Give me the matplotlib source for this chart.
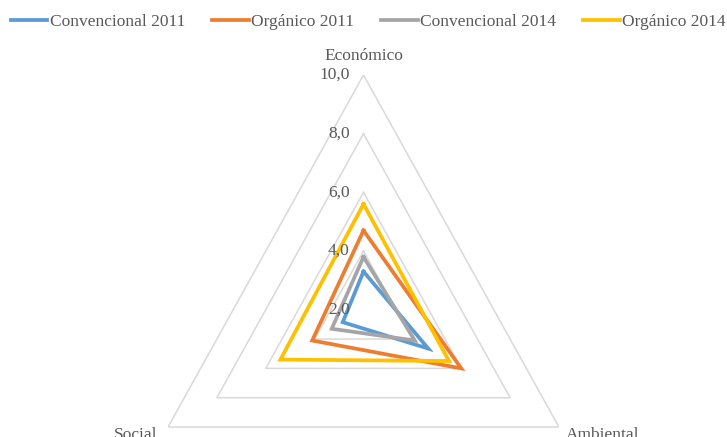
import numpy as np
import matplotlib
matplotlib.use('Agg')
import matplotlib.pyplot as plt

# Datos del gráfico
categorias = ['Económico', 'Ambiental', 'Social']
conv_2011 = [3.3, 4.65, 2.85]
org_2011 = [4.7, 6.0, 4.1]
conv_2014 = [3.8, 4.1, 3.3]
org_2014 = [5.6, 5.5, 5.4]
series = ['Convencional 2011', 'Orgánico 2011', 'Convencional 2014', 'Orgánico 2014']
colores = ['#5B9BD5', '#ED7D31', '#A5A5A5', '#FFC000']
niveles = [2, 4, 6, 8, 10]
etiquetas_niveles = ['2,0', '4,0', '6,0', '8,0', '10,0']

plt.rcParams['font.family'] = ['Liberation Serif', 'DejaVu Serif']
texto = '#595959'
fs = 12.5

W, H = 727, 437
fig = plt.figure(figsize=(W / 100, H / 100), dpi=100)

# centro del radar (px) y radios del nivel 10 (horizontal / vertical)
cx, cy, Rx, Ry = 363.5, 309.7, 225.7, 234.7
ax = fig.add_axes([(cx - Rx) / W, (H - cy - Ry) / H, 2 * Rx / W, 2 * Ry / H], projection='polar')
ax.set_aspect('auto')
ax.set_theta_offset(np.pi / 2)
ax.set_theta_direction(-1)
ax.set_ylim(2, 10)
ax.grid(False)
ax.set_xticks([])
ax.set_yticks([])
ax.spines['polar'].set_visible(False)
ax.patch.set_visible(False)

ang = np.linspace(0, 2 * np.pi, len(categorias), endpoint=False)
ang_c = np.append(ang, ang[0])

# rejilla triangular
for n in niveles[1:]:
    ax.plot(ang_c, [n] * len(ang_c), color='#D9D9D9', lw=1.1, zorder=1)

datos = [conv_2011, org_2011, conv_2014, org_2014]
for nombre, vals, col in zip(series, datos, colores):
    v = np.append(vals, vals[0])
    ax.plot(ang_c, v, color=col, lw=2.7, label=nombre, zorder=3, solid_joinstyle='miter')

# etiquetas del eje
for n, t in zip(niveles, etiquetas_niveles):
    ax.annotate(t, xy=(0, n), xytext=(-10, 0), textcoords='offset points',
                ha='right', va='center', fontsize=fs, color=texto)

# etiquetas de categorías
ax.annotate(categorias[0], xy=(ang[0], 10), xytext=(0, 8), textcoords='offset points',
            ha='center', va='bottom', fontsize=fs, color=texto, annotation_clip=False)
ax.annotate(categorias[1], xy=(ang[1], 10), xytext=(5, 0), textcoords='offset points',
            ha='left', va='top', fontsize=fs, color=texto, annotation_clip=False)
ax.annotate(categorias[2], xy=(ang[2], 10), xytext=(-8, 0), textcoords='offset points',
            ha='right', va='top', fontsize=fs, color=texto, annotation_clip=False)

leg = fig.legend(loc='center', bbox_to_anchor=(0.5 + 5 / W, 1 - 22 / H), ncol=4, frameon=False,
                 fontsize=fs, handlelength=2.1, handletextpad=0.15, columnspacing=1.55,
                 borderaxespad=0.0, borderpad=0.0)
for t in leg.get_texts():
    t.set_color(texto)
for l in leg.get_lines():
    l.set_linewidth(2.7)

fig.savefig('out.png', dpi=100)
